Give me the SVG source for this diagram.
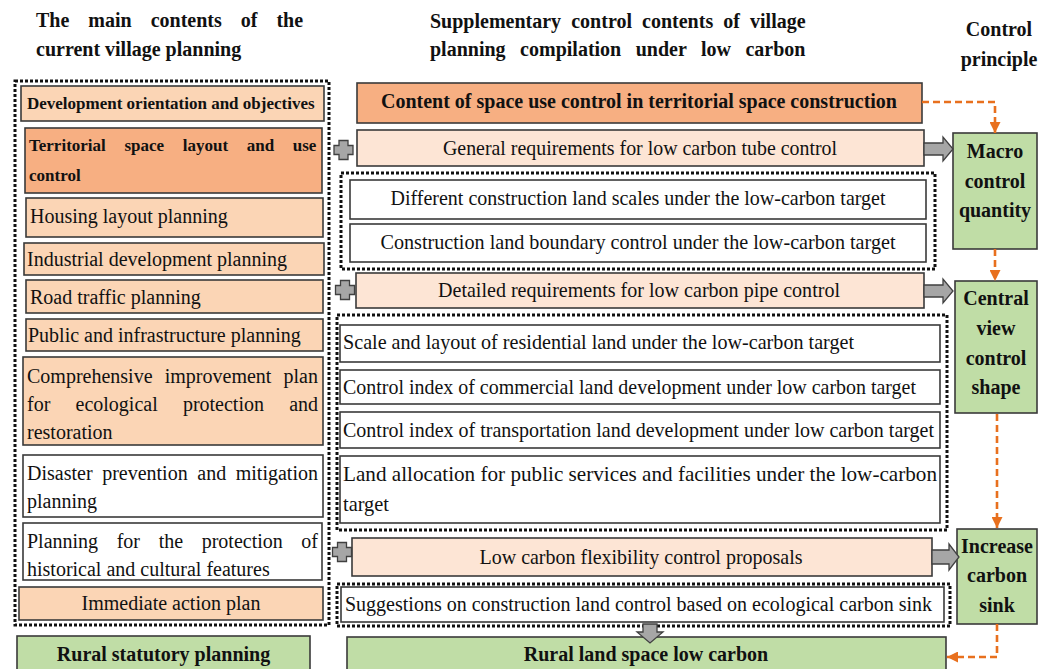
<svg xmlns="http://www.w3.org/2000/svg" width="1047" height="669" viewBox="0 0 1047 669">
<style>
.bg{fill:#ffffff}
.box{stroke:#3a3a3a;stroke-width:1.6}
.peach{fill:#FBD5B5}
.dark{fill:#F7AF82}
.light{fill:#FDE5D5}
.white{fill:#ffffff}
.green{fill:#C0DDA6}
.dot{fill:none;stroke:#111;stroke-width:3;stroke-dasharray:3 2}
.t{font-family:"Liberation Serif","Times New Roman",serif;font-size:20px;fill:#111}
.m{font-family:"Liberation Serif","Times New Roman",serif;font-size:22px;fill:#111}
.b{font-family:"Liberation Serif","Times New Roman",serif;font-size:20px;font-weight:bold;fill:#111}
.c{text-anchor:middle}
.gray{fill:#A6A6A6;stroke:#404040;stroke-width:1.3}
.dash{fill:none;stroke:#E8701E;stroke-width:2.6;stroke-dasharray:7 4}
</style>
<defs>
<marker id="oh" viewBox="0 0 10 10" refX="10" refY="5" markerWidth="11" markerHeight="11" markerUnits="userSpaceOnUse" orient="auto">
<path d="M0,0 L10,5 L0,10 z" fill="#E8701E"/>
</marker>
<path id="plus" d="M-4.5,-9.5 H4.5 V-4.5 H9.5 V4.5 H4.5 V9.5 H-4.5 V4.5 H-9.5 V-4.5 H-4.5 Z"/>
</defs>
<rect class="bg" x="0" y="0" width="1047" height="669"/>

<g id="headers">
<text class="b" x="36" y="27" word-spacing="14">The main contents of the</text>
<text class="b" x="36" y="56">current village planning</text>
<text class="b" x="430" y="28" word-spacing="5.1">Supplementary control contents of village</text>
<text class="b" x="430" y="56" word-spacing="9.5">planning compilation under low carbon</text>
<text class="b c" x="999" y="36">Control</text>
<text class="b c" x="999" y="66">principle</text>
</g>

<g id="left-group">
<rect class="dot" x="15" y="81" width="314" height="544"/>
</g>
<g id="n-dev"><rect class="box peach" x="21" y="86" width="303" height="35"/>
<text class="b" style="font-size:17px" x="27" y="109">Development orientation and objectives</text></g>
<g id="n-territorial"><rect class="box dark" x="25" y="128" width="297" height="65"/>
<text class="b" style="font-size:17px" x="29" y="151" word-spacing="14.4">Territorial space layout and use</text>
<text class="b" style="font-size:17px" x="29" y="181">control</text></g>
<g id="n-housing"><rect class="box peach" x="26" y="198" width="297" height="39"/>
<text class="t" x="30" y="223">Housing layout planning</text></g>
<g id="n-industrial"><rect class="box peach" x="24" y="243" width="300" height="32"/>
<text class="t" x="27" y="266">Industrial development planning</text></g>
<g id="n-road"><rect class="box peach" x="26" y="280" width="297" height="33"/>
<text class="t" x="30" y="304">Road traffic planning</text></g>
<g id="n-public"><rect class="box peach" x="26" y="319" width="297" height="32"/>
<text class="t" x="28" y="342">Public and infrastructure planning</text></g>
<g id="n-comprehensive"><rect class="box peach" x="23" y="357" width="300" height="88"/>
<text class="t" x="27" y="383" word-spacing="7.2">Comprehensive improvement plan</text>
<text class="t" x="27" y="411" word-spacing="20.2">for ecological protection and</text>
<text class="t" x="27" y="439">restoration</text></g>
<g id="n-disaster"><rect class="box white" x="23" y="455" width="300" height="62"/>
<text class="t" x="27" y="480" word-spacing="4.6">Disaster prevention and mitigation</text>
<text class="t" x="27" y="508">planning</text></g>
<g id="n-historical"><rect class="box white" x="23" y="523" width="299" height="57"/>
<text class="t" x="27" y="548" word-spacing="13.6">Planning for the protection of</text>
<text class="t" x="27" y="576">historical and cultural features</text></g>
<g id="n-immediate"><rect class="box peach" x="19" y="587" width="304" height="33"/>
<text class="t c" x="171" y="610">Immediate action plan</text></g>
<g id="n-rural-statutory"><rect class="box green" x="17" y="636" width="293" height="40"/>
<text class="b c" x="163.5" y="661">Rural statutory planning</text></g>

<g id="n-content"><rect class="box dark" x="357" y="83" width="565" height="40"/>
<text class="b c" x="639" y="108" textLength="516" lengthAdjust="spacingAndGlyphs">Content of space use control in territorial space construction</text></g>
<g id="n-general"><rect class="box light" x="357" y="130" width="567" height="36"/>
<text class="m c" x="640" y="155" textLength="394" lengthAdjust="spacingAndGlyphs">General requirements for low carbon tube control</text></g>
<g id="group-macro-items"><rect class="dot" x="341" y="173" width="594" height="96"/></g>
<g id="n-scales"><rect class="box white" x="350" y="180" width="576" height="39"/>
<text class="m c" x="638" y="205" textLength="495" lengthAdjust="spacingAndGlyphs">Different construction land scales under the low-carbon target</text></g>
<g id="n-boundary"><rect class="box white" x="350" y="224" width="576" height="38"/>
<text class="m c" x="638" y="249" textLength="515" lengthAdjust="spacingAndGlyphs">Construction land boundary control under the low-carbon target</text></g>
<g id="n-detailed"><rect class="box light" x="356" y="273" width="568" height="35"/>
<text class="m c" x="639" y="297" textLength="402" lengthAdjust="spacingAndGlyphs">Detailed requirements for low carbon pipe control</text></g>
<g id="group-detail-items"><rect class="dot" x="337" y="315" width="610" height="215"/></g>
<g id="n-residential"><rect class="box white" x="340" y="325" width="600" height="37"/>
<text class="m" x="343" y="349" textLength="511" lengthAdjust="spacingAndGlyphs">Scale and layout of residential land under the low-carbon target</text></g>
<g id="n-commercial"><rect class="box white" x="340" y="370" width="600" height="34"/>
<text class="m" x="343" y="394" textLength="573" lengthAdjust="spacingAndGlyphs">Control index of commercial land development under low carbon target</text></g>
<g id="n-transport"><rect class="box white" x="340" y="412" width="600" height="36"/>
<text class="m" x="343" y="437" textLength="591" lengthAdjust="spacingAndGlyphs">Control index of transportation land development under low carbon target</text></g>
<g id="n-public-land"><rect class="box white" x="340" y="456" width="600" height="67"/>
<text class="m" x="343" y="481" textLength="594" lengthAdjust="spacingAndGlyphs">Land allocation for public services and facilities under the low-carbon</text>
<text class="m" x="343" y="511" textLength="46" lengthAdjust="spacingAndGlyphs">target</text></g>
<g id="n-flexibility"><rect class="box light" x="352" y="538" width="580" height="38"/>
<text class="m c" x="641" y="564" textLength="323" lengthAdjust="spacingAndGlyphs">Low carbon flexibility control proposals</text></g>
<g id="group-sink-items"><rect class="dot" x="337" y="584" width="613" height="42"/></g>
<g id="n-suggestions"><rect class="box white" x="341" y="587" width="603" height="35"/>
<text class="t" x="345" y="611" textLength="587" lengthAdjust="spacingAndGlyphs">Suggestions on construction land control based on ecological carbon sink</text></g>
<g id="n-rural-land"><rect class="box green" x="347" y="637" width="599" height="40"/>
<text class="b c" x="646" y="661">Rural land space low carbon</text></g>

<g id="n-macro"><rect class="box green" x="953" y="133" width="84" height="116"/>
<text class="b c" x="995" y="158">Macro</text>
<text class="b c" x="995" y="188">control</text>
<text class="b c" x="995" y="217">quantity</text></g>
<g id="n-central"><rect class="box green" x="955" y="281" width="82" height="132"/>
<text class="b c" x="996" y="305">Central</text>
<text class="b c" x="996" y="335">view</text>
<text class="b c" x="996" y="365">control</text>
<text class="b c" x="996" y="394">shape</text></g>
<g id="n-sink"><rect class="box green" x="957" y="529" width="80" height="95"/>
<text class="b c" x="997" y="553">Increase</text>
<text class="b c" x="997" y="582">carbon</text>
<text class="b c" x="997" y="612">sink</text></g>

<g id="connectors">
<use href="#plus" class="gray" transform="translate(343.5,150)"/>
<use href="#plus" class="gray" transform="translate(345,290)"/>
<use href="#plus" class="gray" transform="translate(342,552)"/>
<path class="gray" d="M924,143 H943 V137 L953,149 L943,161 V155 H924 Z"/>
<path class="gray" d="M924,285 H943 V279 L953,291 L943,303 V297 H924 Z"/>
<path class="gray" d="M932,550 H949 V544 L959,557 L949,570 V564 H932 Z"/>
<path class="gray" d="M643,624 H657 V632 H663 L650,643 L637,632 H643 Z"/>
<path class="dash" d="M922,102 H995 V133" marker-end="url(#oh)"/>
<path class="dash" d="M995,249 V281" marker-end="url(#oh)"/>
<path class="dash" d="M997,414 V528" marker-end="url(#oh)"/>
<path class="dash" d="M997,624 V657 H947" marker-end="url(#oh)"/>
</g>
</svg>
